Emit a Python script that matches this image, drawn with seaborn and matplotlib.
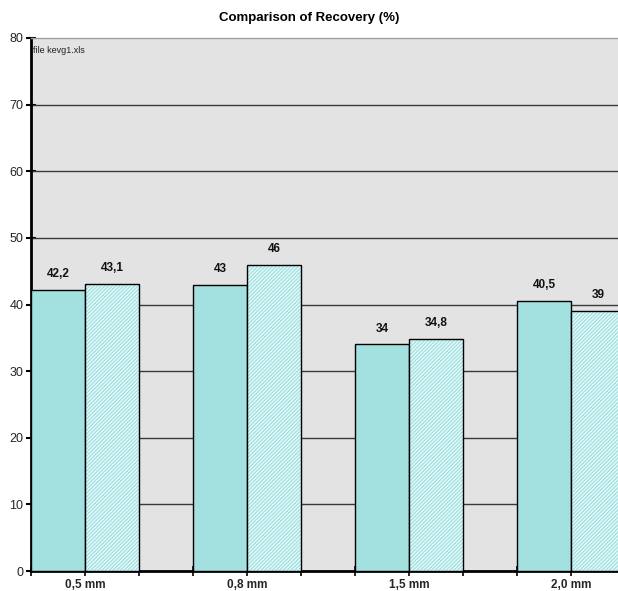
import matplotlib
matplotlib.use("Agg")
import matplotlib.pyplot as plt
from matplotlib.patches import Rectangle
import seaborn as sns
import pandas as pd
import numpy as np

# Data
categories = ["0,5 mm", "0,8 mm", "1,5 mm", "2,0 mm"]
series_names = ["Series 1", "Series 2"]
recovery_1 = [42.2, 43.0, 34.0, 40.5]
recovery_2 = [43.1, 46.0, 34.8, 39.0]
value_labels_1 = ["42,2", "43", "34", "40,5"]
value_labels_2 = ["43,1", "46", "34,8", "39"]
y_ticks = [0, 10, 20, 30, 40, 50, 60, 70, 80]

df = pd.DataFrame({
    "Size": categories * 2,
    "Recovery": recovery_1 + recovery_2,
    "Series": [series_names[0]] * 4 + [series_names[1]] * 4,
})

sns.set_theme(style="white")
plt.rcParams["font.family"] = ["Liberation Sans", "DejaVu Sans"]
plt.rcParams["hatch.linewidth"] = 0.7

fig = plt.figure(figsize=(6.18, 5.91), dpi=100)
ax = fig.add_axes([31 / 618, 1 - 571 / 591, 1 - 31 / 618, (571 - 38) / 591])
ax.set_facecolor("#e3e3e3")

bar_fill = "#a3e0e0"
sns.barplot(data=df, x="Size", y="Recovery", hue="Series", order=categories,
            hue_order=series_names, palette=[bar_fill, "#a8e2e2"], saturation=1,
            width=2 / 3, dodge=True, legend=False, ax=ax,
            edgecolor="black", linewidth=1.0, zorder=3)

# Textured second series: white hatch on cyan, black outline on top
for patch in ax.containers[1]:
    patch.set_edgecolor("#f4ffff")
    patch.set_linewidth(0)
    patch.set_hatch("/////////")
    outline = Rectangle(patch.get_xy(), patch.get_width(), patch.get_height(),
                        fill=False, edgecolor="black", linewidth=1.0, zorder=4)
    ax.add_patch(outline)

# Value labels
label_box = dict(boxstyle="square,pad=0.15", facecolor="#e3e3e3", edgecolor="none")
for cont, labels in zip(ax.containers, [value_labels_1, value_labels_2]):
    ax.bar_label(cont, labels=labels, padding=7, fontsize=8.5, fontweight="bold",
                 color="#111111", bbox=label_box, zorder=5)

# Grid lines
for v in y_ticks[1:-1]:
    ax.axhline(v, color="#3a3a3a", linewidth=1.0, zorder=1)

# Ticks
ax.set_yticks(y_ticks)
ax.set_yticklabels([str(v) for v in y_ticks], fontsize=9)
ax.set_xticks(range(len(categories)))
ax.set_xticklabels(categories, fontsize=8.5, fontweight="bold")
ax.set_xticks(np.arange(-1 / 3, 3.4, 1 / 3), minor=True)
ax.tick_params(axis="x", which="both", direction="inout", length=7, width=1.2,
               color="black", bottom=True, pad=2)
ax.tick_params(axis="y", which="major", direction="inout", length=7, width=1.5,
               color="black", left=True, pad=2)
ax.set_xlabel("")
ax.set_ylabel("")

# Limits (after ticks so they are not widened)
ax.set_ylim(0, 80)
ax.set_xlim(-1 / 3, -1 / 3 + 587 / 54 / 3)

for side in ["left", "bottom"]:
    ax.spines[side].set_color("black")
    ax.spines[side].set_linewidth(2)
ax.spines["top"].set_color("#a0a0a0")
ax.spines["top"].set_linewidth(1)
ax.spines["right"].set_visible(False)

ax.text(0.004, 0.985, "file kevg1.xls", transform=ax.transAxes, fontsize=6.5,
        ha="left", va="top", color="#222222")

fig.text(0.5, 1 - 18 / 591, "Comparison of Recovery (%)", ha="center", va="center",
         fontsize=9.5, fontweight="bold", color="black")

fig.savefig("out.png", dpi=100, facecolor="white")
